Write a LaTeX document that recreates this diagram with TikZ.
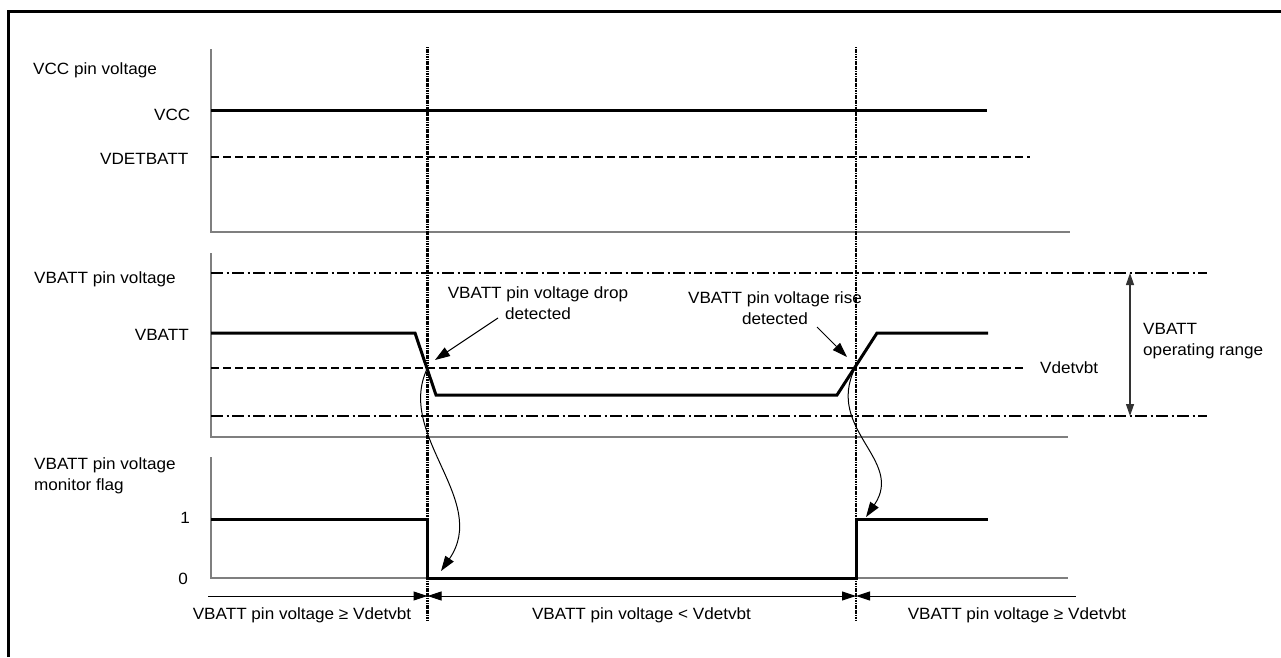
\documentclass[tikz,border=0pt]{standalone}
\usepackage{fontspec}
\setmainfont{Liberation Sans}[FakeStretch=1.05]
\usetikzlibrary{arrows.meta}
\definecolor{axisgray}{HTML}{7F7F7F}
\begin{document}
\begin{tikzpicture}[x=1pt,y=-1pt,
  lbl/.style={inner sep=0pt, font=\fontsize{16.3}{21}\selectfont},
  axisline/.style={draw=axisgray, line width=1.5pt},
  sig/.style={draw=black, line width=3pt, line join=miter},
  dashedline/.style={draw=black, line width=2pt, dash pattern=on 7.5pt off 4.5pt},
  dashdotline/.style={draw=black, line width=2pt, dash pattern=on 12pt off 3.5pt on 2pt off 3.5pt},
  marker/.style={draw=black, line width=2.5pt, dash pattern=on 1.2pt off 0.5pt},
  dimline/.style={draw=black, line width=1pt},
  tri/.tip={Triangle[length=14pt,width=9pt]},
  thinarrow/.style={draw=black, line width=1pt}
]
\useasboundingbox (0,0) rectangle (1281,657);
\fill[white] (0,0) rectangle (1281,657);

% frame (only left and top edges visible)
\coordinate (fbl) at (8.5,657);
\coordinate (ftl) at (8.5,11.5);
\coordinate (ftr) at (1281,11.5);
\draw[line width=3pt] (fbl) -- (ftl) -- (ftr);

% axes
\coordinate (a1t) at (211,49);  \coordinate (a1o) at (211,232); \coordinate (a1r) at (1070,232);
\coordinate (a2t) at (211,253); \coordinate (a2o) at (211,437); \coordinate (a2r) at (1068,437);
\coordinate (a3t) at (211,457); \coordinate (a3o) at (211,578); \coordinate (a3r) at (1068,578);
\draw[axisline] (a1t) -- (a1o) -- (a1r);
\draw[axisline] (a2t) -- (a2o) -- (a2r);
\draw[axisline] (a3t) -- (a3o) -- (a3r);

% top panel
\coordinate (vcc0) at (211,110); \coordinate (vcc1) at (987,110);
\coordinate (vdet0) at (211,157); \coordinate (vdet1) at (1030,157);
\draw[sig] (vcc0) -- (vcc1);
\draw[dashedline] (vdet0) -- (vdet1);

% middle panel
\coordinate (rt0) at (211,273); \coordinate (rt1) at (1207,273);
\coordinate (rb0) at (211,416); \coordinate (rb1) at (1207,416);
\coordinate (vd0) at (211,368); \coordinate (vd1) at (1027,368);
\draw[dashdotline] (rt0) -- (rt1);
\draw[dashdotline] (rb0) -- (rb1);
\draw[dashedline] (vd0) -- (vd1);
\coordinate (b0) at (211,333); \coordinate (b1) at (415,333); \coordinate (b2) at (436,395);
\coordinate (b3) at (837,395); \coordinate (b4) at (877,333); \coordinate (b5) at (988,333);
\draw[sig] (b0) -- (b1) -- (b2) -- (b3) -- (b4) -- (b5);

% bottom panel
\coordinate (f0) at (211,519); \coordinate (f1) at (427.5,519); \coordinate (f2) at (427.5,578);
\coordinate (f3) at (856,578); \coordinate (f4) at (856,519); \coordinate (f5) at (988,519);
\draw[sig] (f0) -- (f1) -- (f2) -- (f3) -- (f4) -- (f5);

% dotted event markers
\coordinate (m1t) at (427.5,47); \coordinate (m1b) at (427.5,620);
\coordinate (m2t) at (856,47); \coordinate (m2b) at (856,620);
\draw[marker] (m1t) -- (m1b);
\draw[marker] (m2t) -- (m2b);

% dimension line
\coordinate (d0) at (208,596); \coordinate (d1) at (427.5,596);
\coordinate (d2) at (856,596); \coordinate (d3) at (1076,596);
\draw[dimline, -{tri}] (d0) -- (d1);
\draw[dimline, {tri}-{tri}] (d1) -- (d2);
\draw[dimline, {tri}-] (d2) -- (d3);

% operating range arrow
\coordinate (or0) at (1130,273); \coordinate (or1) at (1130,416);
\draw[line width=1.2pt, draw=black!80, {Triangle[length=12pt,width=8pt]}-{Triangle[length=12pt,width=8pt]}] (or0) -- (or1);

% detection arrows
\coordinate (x1) at (427.5,368); \coordinate (x2) at (855,368);
\coordinate (da0) at (498,318); \coordinate (da1) at (435,360);
\coordinate (ra0) at (817,327); \coordinate (ra1) at (847,357);
\draw[thinarrow, -{Triangle[length=15pt,width=10pt]}] (da0) -- (da1);
\draw[thinarrow, -{Triangle[length=15pt,width=10pt]}] (ra0) -- (ra1);

% curved arrows to the flag
\coordinate (c1e) at (441,571); \coordinate (c2e) at (866,517);
\draw[thinarrow, -{Triangle[length=15pt,width=10pt]}] (x1) .. controls (395,435) and (490,500) .. (c1e);
\draw[thinarrow, -{Triangle[length=15pt,width=10pt]}] (x2) .. controls (825,430) and (905,460) .. (c2e);

% labels
\node[lbl, anchor=base west] (lvcc) at (33,74) {VCC pin voltage};
\node[lbl, anchor=base east] (lvccv) at (190.5,120.5) {VCC};
\node[lbl, anchor=base east] (lvdet) at (188.5,164) {VDETBATT};
\node[lbl, anchor=base west] (lvb) at (34,283) {VBATT pin voltage};
\node[lbl, anchor=base east] (lvbv) at (189,340) {VBATT};
\node[lbl, anchor=north west, align=left] (lflag) at (34,457) {VBATT pin voltage\\monitor flag};
\node[lbl, anchor=base east] (l1) at (190,523) {1};
\node[lbl, anchor=base east] (l0) at (188,584) {0};
\node[lbl, anchor=base] (s1) at (302,619) {VBATT pin voltage ≥ Vdetvbt};
\node[lbl, anchor=base] (s2) at (641.5,619) {VBATT pin voltage < Vdetvbt};
\node[lbl, anchor=base] (s3) at (1017,619) {VBATT pin voltage ≥ Vdetvbt};
\node[lbl, anchor=base west] (lvd) at (1040,373) {Vdetvbt};
\node[lbl, anchor=north west, align=left] (lor) at (1143,323) {VBATT\\operating range};
\node[lbl, anchor=north, align=center] (ldrop) at (538,286) {VBATT pin voltage drop\\detected};
\node[lbl, anchor=north, align=center] (lrise) at (775,291) {VBATT pin voltage rise\\detected};
\end{tikzpicture}
\end{document}
